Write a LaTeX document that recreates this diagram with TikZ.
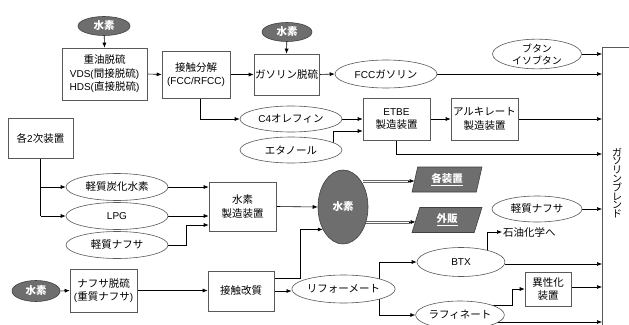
\documentclass[tikz,border=0pt]{standalone}
\usepackage{fontspec}
\setmainfont{Liberation Sans}
\newfontfamily\jp[Scale=1.05]{Noto Sans CJK JP}
\usetikzlibrary{shapes.geometric,arrows.meta,calc}
\pgfdeclarelayer{bg}
\pgfsetlayers{bg,main}
\tikzset{
 box/.style={draw=black!65, line width=0.6pt, fill=white, align=center, inner sep=1pt},
 oval/.style={ellipse, draw=black!65, line width=0.6pt, fill=white, align=center, inner sep=0pt},
 hyd/.style={ellipse, draw=black!75, line width=0.6pt, fill=black!57, text=white, font=\jp\bfseries, inner sep=0pt},
 para/.style={trapezium, trapezium left angle=76, trapezium right angle=104, trapezium stretches=true, draw=black!75, line width=0.6pt, fill=black!57, text=white, font=\jp\bfseries, inner sep=0pt},
 arr/.style={-{Latex[length=5pt,width=4pt]}, line width=0.6pt},
 thinl/.style={line width=0.6pt, draw=black!60}
}
\begin{document}
\begin{tikzpicture}[x=1pt,y=-1pt, font=\fontsize{10}{13.5}\selectfont]
\useasboundingbox (0,0) rectangle (629,324);
% top row
\node[hyd, minimum width=52pt, minimum height=19pt] (h2a) at (104,26) {水素};
\node[box, minimum width=85pt, minimum height=52pt] (vds) at (104.5,74) {{\jp 重油脱硫}\\VDS({\jp 間接脱硫})\\HDS({\jp 直接脱硫})};
\node[box, minimum width=68pt, minimum height=47pt] (fcc) at (196,74.5) {{\jp 接触分解}\\(FCC/RFCC)};
\node[hyd, minimum width=50pt, minimum height=19pt] (h2b) at (287,32) {水素};
\node[box, minimum width=65pt, minimum height=41pt] (gdes) at (286.5,74.5) {\jp ガソリン脱硫};
\node[oval, minimum width=102pt, minimum height=28pt] (fccg) at (386,74) {FCC{\jp ガソリン}};
\node[oval, minimum width=89pt, minimum height=28pt, font=\jp\fontsize{9.5}{12}\selectfont] (but) at (537,54) {ブタン\\イソブタン};
\node[oval, minimum width=102pt, minimum height=26pt] (c4) at (291,119) {C4{\jp オレフィン}};
\node[oval, minimum width=102pt, minimum height=26pt] (eth) at (291,150) {\jp エタノール};
\node[box, minimum width=67pt, minimum height=42pt] (etbe) at (396.5,119) {ETBE\\{\jp 製造装置}};
\node[box, minimum width=67pt, minimum height=42pt] (alk) at (484.5,119) {{\jp アルキレート}\\{\jp 製造装置}};
% blend
\node[draw=black!65, line width=0.6pt, fill=white, minimum width=45pt, minimum height=300pt, anchor=north west, inner sep=0pt] (blend) at (602,47) {};
\node[align=center, font=\jp\fontsize{9.5}{8.6}\selectfont, inner sep=0pt] (blendtxt) at (617,183) {ガ\\ソ\\リ\\ン\\ブ\\レ\\ン\\ド};
% middle
\node[box, minimum width=65pt, minimum height=40pt] (k2) at (40.5,138) {{\jp 各}2{\jp 次装置}};
\node[oval, minimum width=102pt, minimum height=27pt] (lhc) at (117,187) {\jp 軽質炭化水素};
\node[oval, minimum width=102pt, minimum height=27pt] (lpg) at (117,216) {LPG};
\node[oval, minimum width=102pt, minimum height=27pt] (ln1) at (117,245) {\jp 軽質ナフサ};
\node[box, minimum width=67pt, minimum height=49pt] (h2m) at (242.5,206.5) {{\jp 水素}\\{\jp 製造装置}};
\node[hyd, minimum width=50pt, minimum height=74pt] (h2big) at (343,207) {水素};
\node[para, minimum width=70pt, minimum height=25pt] (p1) at (447,179.5) {\underline{各装置}};
\node[para, minimum width=70pt, minimum height=25pt] (p2) at (447,220) {\underline{外販}};
\node[oval, minimum width=90pt, minimum height=26pt] (ln2) at (537,209) {\jp 軽質ナフサ};
% bottom
\node[hyd, minimum width=48pt, minimum height=21pt] (h2c) at (36,291) {水素};
\node[box, minimum width=67pt, minimum height=43pt] (nd) at (103.5,290.5) {{\jp ナフサ脱硫}\\({\jp 重質ナフサ})};
\node[box, minimum width=66pt, minimum height=40pt] (ks) at (241,291) {\jp 接触改質};
\node[oval, minimum width=103pt, minimum height=28pt] (ref) at (343.5,289) {\jp リフォーメート};
\node[oval, minimum width=88pt, minimum height=29pt] (btx) at (461,262) {BTX};
\node[anchor=west, inner sep=1pt, font=\jp] (pc) at (502,232) {石油化学へ};
\node[oval, minimum width=86pt, minimum height=28pt] (raf) at (460,315) {\jp ラフィネート};
\node[box, minimum width=46pt, minimum height=34pt] (iso) at (548,289) {{\jp 異性化}\\{\jp 装置}};
% double-line outputs of hydrogen
\coordinate (d1) at ($(h2big.center)+(20,-26)$);
\coordinate (d2) at ($(h2big.center)+(22,15)$);
% connectors
\begin{pgfonlayer}{bg}
\draw[arr] (h2a) -- (vds.north);
\draw[arr] (vds.east) -- (fcc.west);
\draw[arr] (fcc.east) -- (gdes.west);
\draw[arr] (h2b) -- (gdes.north);
\draw[arr] (gdes.east) -- (fccg.west);
\draw[arr] (fccg.east) -- (fccg.east -| blend.west);
\draw[arr] (but.east) -- (but.east -| blend.west);
\draw[arr] ([xshift=4pt]fcc.south) |- (c4.west);
\draw[arr] (c4.east) -- (c4.east -| etbe.west);
\draw[arr] ([xshift=42pt]eth.center) |- ([yshift=-12pt]etbe.west);
\draw[arr] (etbe.east) -- (etbe.east -| alk.west);
\draw[arr] (alk.east) -- (alk.east -| blend.west);
\draw[arr] (etbe.south) |- (blend.west |- 0,154);
\draw (k2.south) -- (k2.south |- lpg);
\draw[arr] (k2.south |- lhc) -- (lhc.west);
\draw[arr] (k2.south |- lpg) -- (lpg.west);
\draw[arr] (lhc.east) -- (lhc.east -| h2m.west);
\draw[arr] (lpg.east) -- (lpg.east -| h2m.west);
\draw[arr] (ln1.east) -- ++(18,0) |- ([yshift=-18.5pt]h2m.west);
\draw[arr] (h2m.east) -- (h2big.west);
\draw[arr] ([yshift=13pt]ks.east) -- ++(26,0) |- (h2big.228);
\draw[thinl] ([yshift=1.1pt]d1) -- ($(d1 -| p1.west)+(-6,-1.1)$);
\draw[thinl] ([yshift=-1.1pt]d1) -- ($(d1 -| p1.west)+(-6,1.1)$);
\draw[arr] ($(d1 -| p1.west)+(-7,0)$) -- (d1 -| p1.west);
\draw[thinl] ([yshift=1.1pt]d2) -- ($(d2 -| p2.west)+(-6,-1.1)$);
\draw[thinl] ([yshift=-1.1pt]d2) -- ($(d2 -| p2.west)+(-6,1.1)$);
\draw[arr] ($(d2 -| p2.west)+(-7,0)$) -- (d2 -| p2.west);
\draw[arr] (ln2.east) -- (ln2.east -| blend.west);
\draw[arr] (h2c.east) -- (nd.west);
\draw[arr] (nd.east) -- (nd.east -| ks.west);
\draw[arr] (ks.east) -- (ks.east -| ref.west);
\draw[arr] ([xshift=35.5pt]ref.center) |- (btx.west);
\draw[arr] ([xshift=35.5pt]ref.center) |- (raf.west);
\draw[arr] ([xshift=26pt]btx.center) |- (pc.west);
\draw[arr] ([yshift=-2pt]btx.east) -- ([yshift=-2pt]btx.east -| blend.west);
\draw[arr] (raf.center |- 0,305) -| ([xshift=-12pt]iso.west) -- (iso.west);
\draw[arr] ([yshift=2pt]iso.east) -- ([yshift=2pt]iso.east -| blend.west);
\draw[arr] (raf.center |- 0,322) -- (blend.west |- 0,322);
\end{pgfonlayer}
\end{tikzpicture}
\end{document}
